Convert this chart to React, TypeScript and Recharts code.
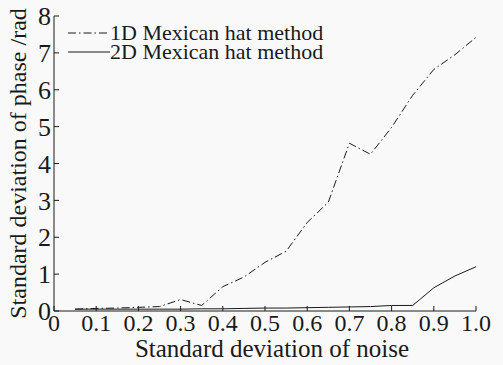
import { LineChart, Line, XAxis, YAxis } from 'recharts';

const noise = [0.05, 0.1, 0.15, 0.2, 0.25, 0.3, 0.35, 0.4, 0.45, 0.5, 0.55, 0.6, 0.65, 0.7, 0.75, 0.8, 0.85, 0.9, 0.95, 1.0];
const hat1D = [0.05, 0.07, 0.08, 0.1, 0.12, 0.31, 0.15, 0.66, 0.92, 1.32, 1.62, 2.4, 2.95, 4.55, 4.25, 4.98, 5.85, 6.55, 6.95, 7.42];
const hat2D = [0.05, 0.05, 0.05, 0.05, 0.05, 0.05, 0.06, 0.06, 0.07, 0.08, 0.08, 0.09, 0.1, 0.11, 0.12, 0.15, 0.15, 0.63, 0.95, 1.2];
const xTicks = [0, 0.1, 0.2, 0.3, 0.4, 0.5, 0.6, 0.7, 0.8, 0.9, 1.0];
const yTicks = [0, 1, 2, 3, 4, 5, 6, 7, 8];
const seriesNames = ['1D Mexican hat method', '2D Mexican hat method'];
const seriesDash = ['8 3 1.5 3', undefined];

const data = noise.map((n, i) => ({ n, a: hat1D[i], b: hat2D[i] }));

const font = '"Liberation Serif", serif';
const ink = '#1a1a1a';

export default function App() {
  return (
    <div style={{ position: 'absolute', left: 0, top: 0, width: 503, height: 365, background: '#f9f9f9' }}>
      <LineChart width={503} height={365} data={data} margin={{ top: 16, right: 27, left: 0, bottom: 0 }}>
        <XAxis
          dataKey="n"
          type="number"
          domain={[0, 1]}
          ticks={xTicks}
          tickFormatter={(v: number) => (v === 0 ? '0' : v.toFixed(1))}
          tickSize={-5}
          tickMargin={8}
          height={54}
          stroke={ink}
          tick={{ fill: ink, fontFamily: font, fontSize: 24 }}
          label={({ viewBox }: any) => (
            <text x={viewBox.x + viewBox.width / 2 + 7} y={viewBox.y + 46} textAnchor="middle" fill={ink} fontFamily={font} fontSize={25}>
              Standard deviation of noise
            </text>
          )}
        />
        <XAxis xAxisId="top" orientation="top" dataKey="n" type="number" domain={[0, 1]} ticks={xTicks} tickSize={-5} tick={false} height={0} stroke={ink} />
        <YAxis
          type="number"
          domain={[0, 8]}
          ticks={yTicks}
          tickSize={-5}
          tickMargin={8}
          width={54}
          stroke={ink}
          tick={{ fill: ink, fontFamily: font, fontSize: 26 }}
          label={({ viewBox }: any) => {
            const cx = viewBox.x + 18;
            const cy = viewBox.y + viewBox.height / 2;
            return (
              <text x={cx} y={cy} transform={`rotate(-90, ${cx}, ${cy})`} textAnchor="middle" dominantBaseline="central" fill={ink} fontFamily={font} fontSize={24}>
                Standard deviation of phase /rad
              </text>
            );
          }}
        />
        <YAxis yAxisId="right" orientation="right" type="number" domain={[0, 8]} ticks={yTicks} tickSize={-5} tick={false} width={0} stroke={ink} />
        <Line dataKey="a" name={seriesNames[0]} stroke={ink} strokeWidth={1} strokeDasharray={seriesDash[0]} dot={false} isAnimationActive={false} />
        <Line dataKey="b" name={seriesNames[1]} stroke={ink} strokeWidth={1} dot={false} isAnimationActive={false} />
        <Line dataKey="a" xAxisId="top" yAxisId="right" stroke="none" dot={false} legendType="none" isAnimationActive={false} />
      </LineChart>
      <div style={{ position: 'absolute', left: 68, top: 23 }}>
        {seriesNames.map((name, i) => (
          <div key={name} style={{ display: 'flex', alignItems: 'center', height: 19 }}>
            <svg width={42} height={19}>
              <line x1={0} y1={10} x2={42} y2={10} stroke={ink} strokeWidth={1} strokeDasharray={seriesDash[i]} />
            </svg>
            <span style={{ fontFamily: font, fontSize: 22, color: ink, whiteSpace: 'nowrap', lineHeight: '19px' }}>{name}</span>
          </div>
        ))}
      </div>
    </div>
  );
}
